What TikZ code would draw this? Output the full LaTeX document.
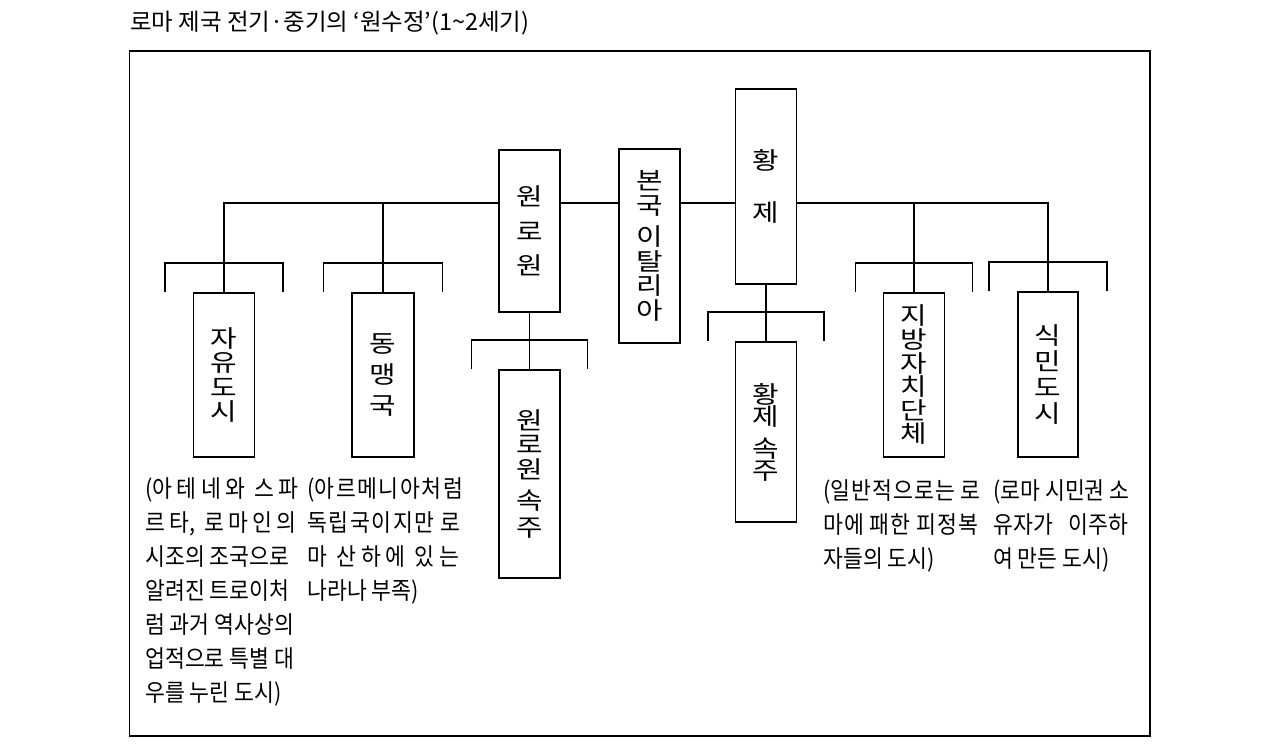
\documentclass[tikz,border=0pt]{standalone}
\usepackage{fontspec}
\newfontfamily\kr{Noto Sans CJK KR}
\newfontfamily\krbox[FakeStretch=1.2]{Noto Sans CJK KR}
\newfontfamily\krdesc[FakeStretch=0.9]{Noto Sans CJK KR}
\usetikzlibrary{calc}
\newcommand\pxu{0.75pt}
\newcommand\jf{\hspace{0pt plus 1fill}}
\newcommand\brk[2]{% node, halfwidth
  \draw[conn] ($(#1.north)+(-#2,-1)$) -- ++(0,-28) -- ++(2*#2,0) -- ++(0,28);}
\tikzset{
  conn/.style={line width=1.2pt, line cap=rect},
  vbox/.style={draw, fill=white, inner sep=0, line width=1.2pt, align=center,
    font=\krbox\fontsize{18}{#1}\selectfont,
    execute at begin node={\lineskiplimit=-50pt}},
  desc/.style={anchor=north west, inner sep=0, align=left,
    font=\krdesc\fontsize{18}{25.5}\selectfont,
    execute at begin node={\lineskiplimit=-50pt}},
}
\begin{document}
\begin{tikzpicture}[x=0.75pt, y=-0.75pt]
\useasboundingbox (0,0) rectangle (1280,755);
% title
\node[anchor=west, inner sep=0, font=\kr\fontsize{17.6}{20}\selectfont] (title) at (130,23)
  {로마 제국 전기·중기의 ‘원수정’(1\textasciitilde 2세기)};
% frame
\node[draw, line width=1.3pt, inner sep=0, minimum width=1020.5*\pxu, minimum height=685*\pxu] (frame) at (639.75,393.5) {};
% main line end points
\coordinate (L) at (224,203);
\coordinate (R) at (1048,203);
% boxes
\node[vbox=18.4, minimum width=61*\pxu, minimum height=164*\pxu] (jayu) at (224,375) {자\\유\\도\\시};
\node[vbox=23.6, minimum width=62*\pxu, minimum height=164*\pxu] (dongmaeng) at (383,375) {동\\맹\\국};
\node[vbox=25.9, minimum width=61*\pxu, minimum height=162*\pxu] (wonro) at (529.5,231) {원\\로\\원};
\node[vbox=18.6, minimum width=61*\pxu, minimum height=208*\pxu] (wonrosokju) at (529.5,474) {원\\로\\원\\[4.5pt]속\\[2pt]주};
\node[vbox=18.4, minimum width=61*\pxu, minimum height=194*\pxu] (bonguk) at (649.5,246) {본\\국\\[5pt]이\\탈\\리\\아};
\node[vbox=39, minimum width=61*\pxu, minimum height=195*\pxu] (hwangje) at (766,186.5) {황\\제};
\node[vbox=16.5, minimum width=61*\pxu, minimum height=180*\pxu] (hwangjesokju) at (766,432) {황\\제\\[7.5pt]속\\주};
\node[vbox=17.7, minimum width=61*\pxu, minimum height=164*\pxu] (jibang) at (914,375) {지\\방\\자\\치\\단\\체};
\node[vbox=19.3, minimum width=60*\pxu, minimum height=165*\pxu] (sikmin) at (1048,374.5) {식\\민\\도\\시};
% main line
\draw[conn] (L) -- (L -| wonro.west);
\draw[conn] (wonro.east |- L) -- (bonguk.west |- L);
\draw[conn] (bonguk.east |- L) -- (hwangje.west |- L);
\draw[conn] (hwangje.east |- L) -- (R);
% drops
\draw[conn] (L) -- (jayu.north);
\draw[conn] (L -| dongmaeng.north) -- (dongmaeng.north);
\draw[conn] (L -| jibang.north) -- (jibang.north);
\draw[conn] (R) -- (sikmin.north);
\draw[conn] (wonro.south) -- (wonrosokju.north);
\draw[conn] (hwangje.south) -- (hwangjesokju.north);
% brackets
\brk{jayu}{59}
\brk{dongmaeng}{59.5}
\brk{wonrosokju}{58}
\brk{hwangjesokju}{58}
\brk{jibang}{58.5}
\brk{sikmin}{59}
% descriptions
\node[desc] (d1) at (145,477) {\hbox to 115pt{(아\jf{}테\jf{}네\jf{}와\jf\ 스\jf{}파}\\\hbox to 113pt{르\jf{}타,\jf\ 로\jf{}마\jf{}인\jf{}의}\\시조의 조국으로\\알려진 트로이처\\럼 과거 역사상의\\업적으로 특별 대\\우를 누린 도시)};
\node[desc] (d2) at (307,477) {\hbox to 117pt{(아\jf{}르\jf{}메\jf{}니\jf{}아\jf{}처\jf{}럼}\\\hbox to 115pt{독\jf{}립\jf{}국\jf{}이\jf{}지\jf{}만\jf\ 로}\\\hbox to 114pt{마\jf\ 산\jf{}하\jf{}에\jf\ 있\jf{}는}\\나라나 부족)};
\node[desc] (d3) at (823,479) {\hbox to 118pt{(일\jf{}반\jf{}적\jf{}으\jf{}로\jf{}는\jf\ 로}\\\hbox to 116pt{마\jf{}에\jf\ 패\jf{}한\jf\ 피\jf{}정\jf{}복}\\자들의 도시)};
\node[desc] (d4) at (993,479) {(로마 시민권 소\\\hbox to 101pt{유자가\hfill 이주하}\\여 만든 도시)};
\end{tikzpicture}
\end{document}
